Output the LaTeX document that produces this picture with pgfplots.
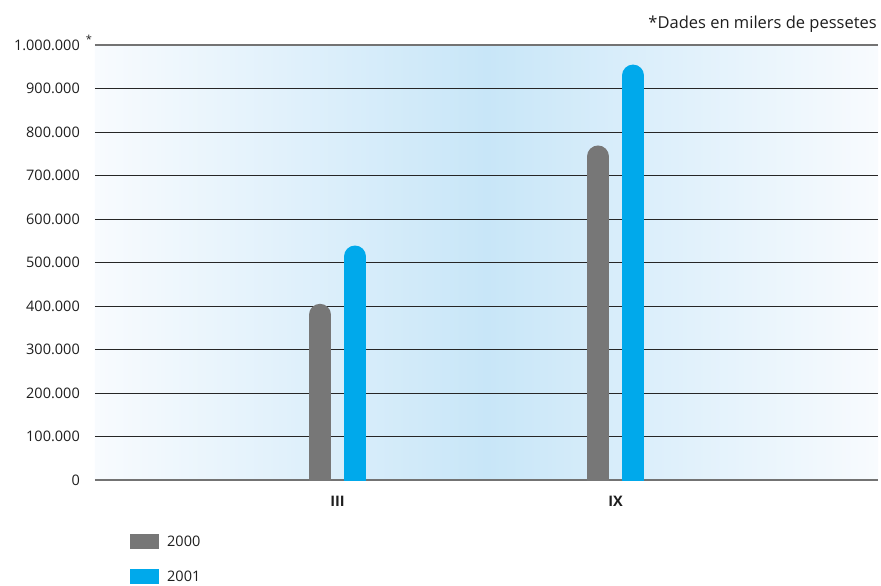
\documentclass[border=0pt]{standalone}
\usepackage{pgfplots}
\pgfplotsset{compat=1.18}
\usepackage{fontspec}
\setmainfont{Open Sans}
\definecolor{gbar}{HTML}{777777}
\definecolor{bbar}{HTML}{00A9EB}
\definecolor{bgblue}{HTML}{C8E6F8}
\definecolor{bgedge}{HTML}{F8FBFE}
\definecolor{txt}{HTML}{1E1E1E}
\begin{document}
\begin{tikzpicture}[font=\fontsize{14.5bp}{17bp}\selectfont, text=txt]
\begin{axis}[
  name=ax,
  scale only axis, width=783bp, height=435bp,
  xmin=0.1277, xmax=2.944, ymin=0, ymax=1000000,
  xtick={1,2}, xticklabels={III,IX},
  ytick={100000,200000,...,900000},
  extra y ticks={0,1000000},
  extra y tick style={major grid style={draw=black!55, line width=1.8bp}},
  ymajorgrids, major grid style={draw=black!85, line width=0.9bp},
  axis line style={draw=none},
  major tick length=0pt,
  scaled y ticks=false,
  yticklabel style={/pgf/number format/fixed, /pgf/number format/1000 sep={.}, /pgf/number format/assume math mode=true, anchor=east, inner sep=0pt, xshift=-15bp},
  xticklabel style={anchor=north, inner sep=0pt, yshift=-16bp, font=\fontsize{14.5bp}{17bp}\selectfont\bfseries},
  axis background/.style={left color=bgedge, right color=bgedge, middle color=bgblue},
  legend style={at={(0.0447,-0.124)}, anchor=north west, draw=none, fill=none, inner sep=0pt, row sep=20bp, /tikz/column sep=8bp, nodes={inner sep=0pt, anchor=west}},
  legend cell align=left,
]
% bar tops: 2000 -> 405000, 769000; 2001 -> 539000, 955000
% plotted at (top - 25300) because the round cap adds its radius (11bp) above the value
\addplot[ycomb, color=gbar, line width=22bp, line cap=round, mark=none,
  legend image code/.code={\path[fill=gbar, draw=none, line width=0pt] (0bp,-7.5bp) rectangle (29bp,7.5bp);}]
  coordinates {(0.937,379700) (1.937,743700)};
\addlegendentry{2000}
\addplot[ycomb, color=bbar, line width=22bp, line cap=round, mark=none,
  legend image code/.code={\path[fill=bbar, draw=none, line width=0pt] (0bp,-7.5bp) rectangle (29bp,7.5bp);}]
  coordinates {(1.063,513700) (2.063,929700)};
\addlegendentry{2001}
\end{axis}
\node[anchor=base east, inner sep=0pt, font=\fontsize{16.5bp}{19bp}\selectfont] at ([shift={(-1bp,16.5bp)}]ax.north east) {*Dades en milers de pessetes};
\node[inner sep=0pt, font=\fontsize{11bp}{12bp}\selectfont] at ([shift={(-6bp,6bp)}]ax.north west) {*};
\pgfresetboundingbox
\path[use as bounding box] ([shift={(-95bp,-106bp)}]ax.south west) rectangle ([shift={(3bp,45bp)}]ax.north east);
\end{tikzpicture}
\end{document}
